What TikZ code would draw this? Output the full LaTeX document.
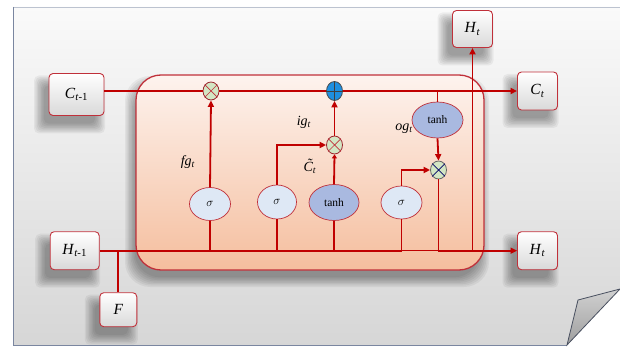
\documentclass[tikz,border=0pt]{standalone}
\usepackage{fontspec}
\setmainfont{Liberation Serif}
\usetikzlibrary{shapes.geometric,arrows.meta}
\definecolor{wire}{HTML}{C00000}
\definecolor{edgered}{HTML}{C0303A}
\definecolor{sheetline}{HTML}{7A86A0}
\definecolor{sigfill}{HTML}{DEE8F5}
\definecolor{tanhfill}{HTML}{A9B9E0}
\definecolor{multfill}{HTML}{D3E6C4}
\definecolor{addfill}{HTML}{1E8FE0}
\definecolor{cellTop}{HTML}{FDF3EE}
\definecolor{cellBot}{HTML}{F5BE9E}
% italic symbol with a subscript
\newcommand\vsub[2]{\textit{#1}\textsubscript{#2}}
% italic C with a tilde on top
\newcommand\ctilde{\ooalign{\textit{C}\cr\hidewidth\raisebox{0.22em}{\kern0.15em\textit{\char"02DC}}\hidewidth\cr}}
% soft drop shadow: centre x, centre y, width, height, corner radius, x shift, y shift
\newcommand\softshade[7]{%
  \foreach \k in {0,...,7}{%
    \pgfmathsetmacro\ww{#3/2+8-\k*1.4}%
    \pgfmathsetmacro\hh{#4/2+8-\k*1.4}%
    \fill[black,opacity=0.05,rounded corners=#5]
      ({#1+#6-\ww},{#2+#7-\hh}) rectangle ({#1+#6+\ww},{#2+#7+\hh});
  }}
\begin{document}
\begin{tikzpicture}[x=1pt,y=-1pt,
  wire/.style={draw=wire,line width=1.8pt},
  thinwire/.style={draw=wire,line width=0.7pt},
  arr/.style={-{Triangle[length=6.5pt,width=6pt]}},
  smallarr/.style={-{Triangle[length=4pt,width=5pt]}},
  iobox/.style={draw=edgered,line width=0.9pt,rounded corners=4pt,
    top color=white,bottom color=black!15,inner sep=0pt,
    font=\fontsize{15.5}{17}\selectfont},
  sigbox/.style={ellipse,draw=edgered,line width=0.7pt,fill=sigfill,
    minimum width=41pt,minimum height=33pt,inner sep=0pt,
    font=\fontsize{12}{14}\selectfont},
  tanhbox/.style={ellipse,draw=edgered,line width=0.7pt,fill=tanhfill,
    minimum width=50pt,minimum height=36pt,inner sep=0pt,
    font=\fontsize{11.5}{13}\selectfont},
  multbox/.style={ellipse,draw=#1,line width=0.8pt,fill=multfill,
    minimum width=16pt,minimum height=18pt,inner sep=0pt},
  addbox/.style={ellipse,draw=black!70,line width=0.8pt,fill=addfill,
    minimum width=16pt,minimum height=19pt,inner sep=0pt},
  lbl/.style={inner sep=0pt,font=\fontsize{14}{16}\selectfont}]
\useasboundingbox (0,0) rectangle (620,347);

% paper sheet with a turned-up corner
\fill[white] (0,0) rectangle (620,347);
\shade[top color=black!2,bottom color=black!16]
  (13,7) -- (620,7) -- (620,289) -- (567,345) -- (13,345) -- cycle;
\draw[sheetline!50,line width=0.8pt] (13,7) -- (620,7);
\draw[sheetline,line width=0.9pt] (13,7) -- (13,345) -- (567,345);
\shade[top color=black!18,bottom color=black!38]
  (567,345) -- (578,300) -- (620,289) -- cycle;
\draw[sheetline!60!black,line width=0.8pt]
  (567,345) -- (578,300) -- (620,289) -- cycle;

% cell body
\softshade{310}{172.5}{348}{195}{25pt}{-3}{9}
\shade[top color=cellTop,bottom color=cellBot,rounded corners=25pt]
  (136,75) rectangle (484,270);
\draw[edgered,line width=1.3pt,rounded corners=25pt] (136,75) rectangle (484,270);

% shadows under the input and output boxes
\softshade{76.5}{94.5}{55}{42}{5pt}{-7}{10}
\softshade{74.7}{250.7}{49}{38}{5pt}{-7}{10}
\softshade{118.3}{309.7}{37}{34}{5pt}{-7}{10}
\softshade{537.5}{91}{40}{38}{5pt}{-7}{10}
\softshade{537.5}{250.7}{40}{38}{5pt}{-7}{10}
\softshade{472.5}{29}{40}{37}{5pt}{-7}{10}

% inputs and outputs
\node[iobox,minimum width=55pt,minimum height=42pt] (Cprev) at (76.5,94.5) {\vsub{C}{\textit{t}-1}};
\node[iobox,minimum width=49pt,minimum height=38pt] (Hprev) at (74.7,250.7) {\vsub{H}{\textit{t}-1}};
\node[iobox,minimum width=37pt,minimum height=34pt] (F) at (118.3,309.7) {\textit{F}};
\node[iobox,minimum width=40pt,minimum height=38pt] (Cnext) at (537.5,91) {\vsub{C}{\textit{t}}};
\node[iobox,minimum width=40pt,minimum height=38pt] (Hnext) at (537.5,250.7) {\vsub{H}{\textit{t}}};
\node[iobox,minimum width=40pt,minimum height=37pt] (Htop) at (472.5,29) {\vsub{H}{\textit{t}}};

% gates
\node[sigbox] (sig1) at (210,204) {$\sigma$};
\node[sigbox,minimum width=39pt,minimum height=34pt] (sig2) at (277,202) {$\sigma$};
\node[tanhbox] (tanh1) at (334,202.5) {tanh};
\node[sigbox] (sig3) at (401.5,202.5) {$\sigma$};
\node[tanhbox,minimum width=51pt] (tanh2) at (437.5,120) {tanh};

% pointwise operations
\node[multbox=edgered!80!black] (m1) at (211,91) {};
\node[addbox] (add) at (334.5,91) {};
\node[multbox=edgered!80!black] (m2) at (334.5,145) {};
\node[multbox=black!60] (m3) at (438.5,170) {};
\draw[edgered,line width=0.7pt] (m1.45) -- (m1.225) (m1.135) -- (m1.315);
\draw[edgered,line width=0.7pt] (m2.45) -- (m2.225) (m2.135) -- (m2.315);
\draw[black!60!blue,line width=0.7pt] (m3.45) -- (m3.225) (m3.135) -- (m3.315);
\draw[black!75,line width=0.7pt] (add.north) -- (add.south) (add.west) -- (add.east);

% gate labels
\node[lbl] (lfg) at (188,162) {\vsub{fg}{\textit{t}}};
\node[lbl] (lig) at (304,122) {\vsub{ig}{\textit{t}}};
\node[lbl] (lct) at (310,168) {\vsub{\ctilde}{\textit{t}}};
\node[lbl] (log) at (404,129) {\vsub{og}{\textit{t}}};

\coordinate (ctap) at (tanh2 |- add);
\coordinate (hup) at (Htop |- Hnext);

% cell state
\draw[wire] (m1 -| Cprev.east) -- (m1.west) (m1.east) -- (add.west);
\draw[wire,arr] (add.east) -- (Cnext.west);
\draw[wire] (ctap) -- (tanh2.north);
% hidden state
\draw[wire] (Hprev.east) -- (sig3 |- Hprev);
\draw[thinwire] (sig3 |- Hprev) -- (m3 |- Hprev);
\draw[wire,arr] (m3.south) -- (m3 |- Hprev) -- (Hnext.west);
\draw[wire,arr] (hup) -- (Htop.south);
\draw[wire] (F |- Hprev) -- (F.north);
% gate inputs
\draw[wire] (sig1 |- Hprev) -- (sig1.south);
\draw[wire] (sig2 |- Hprev) -- (sig2.south);
\draw[wire] (tanh1 |- Hprev) -- (tanh1.south);
\draw[wire] (sig3 |- Hprev) -- (sig3.south);
% gate outputs
\draw[wire,arr] (sig1.north) -- (m1.south);
\draw[wire,arr] (sig2.north) |- (m2.west);
\draw[wire,smallarr] (tanh1.north) -- (m2.south);
\draw[wire,arr] (m2.north) -- (add.south);
\draw[wire,arr] (sig3.north) |- (m3.west);
\draw[wire,arr] (tanh2.south) -- (m3.north);
\end{tikzpicture}
\end{document}
